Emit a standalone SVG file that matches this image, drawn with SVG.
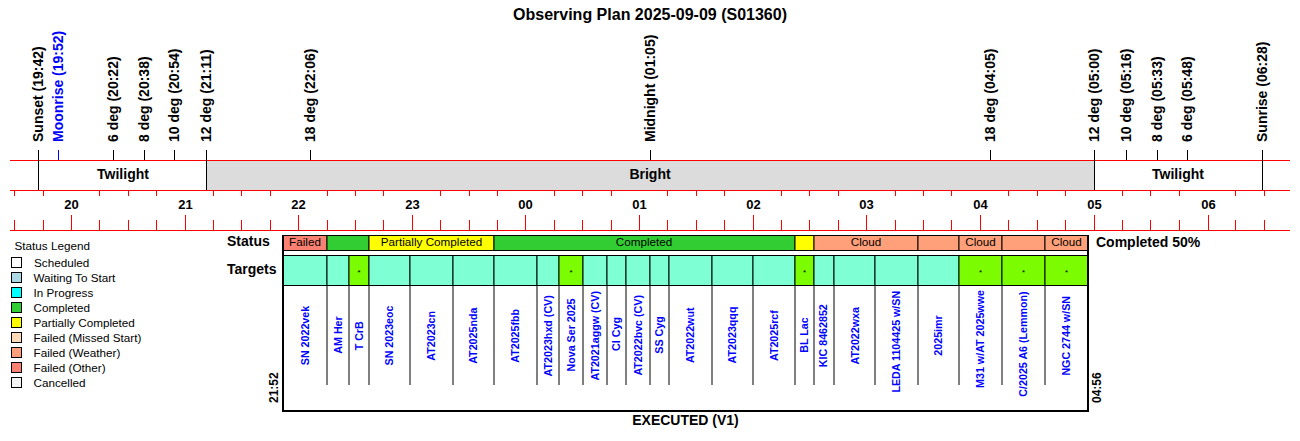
<svg xmlns="http://www.w3.org/2000/svg" width="1300" height="441" viewBox="0 0 1300 441">
<style>
text{font-family:"Liberation Sans",Arial,sans-serif;fill:#000}
.title{font-size:16px;font-weight:bold}
.ev{font-size:14px;font-weight:bold}
.band{font-size:14px;font-weight:bold}
.hr{font-size:13px;font-weight:bold}
.lbl{font-size:14px;font-weight:bold}
.sm{font-size:11.7px}
.tg{font-size:10.7px;font-weight:bold;fill:#0000ff}
.side{font-size:12px;font-weight:bold}
.red{stroke:#ff0000;stroke-width:1;fill:none}
.blk{stroke:#000;stroke-width:1;fill:none}
.cell{stroke:#000;stroke-width:1}
.aq{fill:#7fffd4}
.lg{fill:#7cfc00}
.sq{stroke:#000;stroke-width:1}
</style>
<rect width="1300" height="441" fill="#fff"/>
<text class="title" x="650" y="20" text-anchor="middle">Observing Plan 2025-09-09 (S01360)</text>

<g id="night-band">
<rect x="206.5" y="160.5" width="888" height="30" fill="#dcdcdc"/>
<text class="band" x="123" y="179" text-anchor="middle">Twilight</text>
<text class="band" x="650" y="179" text-anchor="middle">Bright</text>
<text class="band" x="1178" y="179" text-anchor="middle">Twilight</text>
</g>

<g id="axis">
<path class="red" d="M10 160.5H1290M10 190.5H1290M10 230.5H1290"/>
<path class="red" d="M14.5 190.5V196M43.5 190.5V196M99.5 190.5V196M128.5 190.5V196M156.5 190.5V196M213.5 190.5V196M241.5 190.5V196M270.5 190.5V196M327.5 190.5V196M355.5 190.5V196M383.5 190.5V196M440.5 190.5V196M469.5 190.5V196M497.5 190.5V196M554.5 190.5V196M582.5 190.5V196M611.5 190.5V196M667.5 190.5V196M696.5 190.5V196M724.5 190.5V196M781.5 190.5V196M809.5 190.5V196M838.5 190.5V196M895.5 190.5V196M923.5 190.5V196M951.5 190.5V196M1008.5 190.5V196M1037.5 190.5V196M1065.5 190.5V196M1122.5 190.5V196M1150.5 190.5V196M1179.5 190.5V196M1235.5 190.5V196M1264.5 190.5V196"/>
<path class="red" d="M14.5 220V230M43.5 220V230M99.5 220V230M128.5 220V230M156.5 220V230M213.5 220V230M241.5 220V230M270.5 220V230M327.5 220V230M355.5 220V230M383.5 220V230M440.5 220V230M469.5 220V230M497.5 220V230M554.5 220V230M582.5 220V230M611.5 220V230M667.5 220V230M696.5 220V230M724.5 220V230M781.5 220V230M809.5 220V230M838.5 220V230M895.5 220V230M923.5 220V230M951.5 220V230M1008.5 220V230M1037.5 220V230M1065.5 220V230M1122.5 220V230M1150.5 220V230M1179.5 220V230M1235.5 220V230M1264.5 220V230"/>
<path class="red" d="M71.5 215V230M185.5 215V230M298.5 215V230M412.5 215V230M525.5 215V230M639.5 215V230M753.5 215V230M866.5 215V230M980.5 215V230M1094.5 215V230M1208.5 215V230"/>
<g class="hr" text-anchor="middle">
<text class="hr" x="71.5" y="208.5">20</text>
<text class="hr" x="185.5" y="208.5">21</text>
<text class="hr" x="298.5" y="208.5">22</text>
<text class="hr" x="412.5" y="208.5">23</text>
<text class="hr" x="525.5" y="208.5">00</text>
<text class="hr" x="639.5" y="208.5">01</text>
<text class="hr" x="753.5" y="208.5">02</text>
<text class="hr" x="866.5" y="208.5">03</text>
<text class="hr" x="980.5" y="208.5">04</text>
<text class="hr" x="1094.5" y="208.5">05</text>
<text class="hr" x="1208.5" y="208.5">06</text>
</g>
</g>

<g id="events">
<path class="blk" d="M38.5 150V190M113.5 150V160M144.5 150V160M174.5 150V160M206.5 150V190M310.5 150V160M650.5 150V160M990.5 150V160M1094.5 150V190M1126.5 150V160M1157.5 150V160M1187.5 150V160M1262.5 150V190"/>
<path d="M58.5 150V160" stroke="#0000ff" stroke-width="1"/>
<text class="ev" transform="translate(43,142) rotate(-90)">Sunset (19:42)</text>
<text class="ev" transform="translate(63,142) rotate(-90)" style="fill:#0000ff">Moonrise (19:52)</text>
<text class="ev" transform="translate(118,142) rotate(-90)">6 deg (20:22)</text>
<text class="ev" transform="translate(149,142) rotate(-90)">8 deg (20:38)</text>
<text class="ev" transform="translate(179,142) rotate(-90)">10 deg (20:54)</text>
<text class="ev" transform="translate(211,142) rotate(-90)">12 deg (21:11)</text>
<text class="ev" transform="translate(315,142) rotate(-90)">18 deg (22:06)</text>
<text class="ev" transform="translate(655,142) rotate(-90)">Midnight (01:05)</text>
<text class="ev" transform="translate(995,142) rotate(-90)">18 deg (04:05)</text>
<text class="ev" transform="translate(1099,142) rotate(-90)">12 deg (05:00)</text>
<text class="ev" transform="translate(1131,142) rotate(-90)">10 deg (05:16)</text>
<text class="ev" transform="translate(1162,142) rotate(-90)">8 deg (05:33)</text>
<text class="ev" transform="translate(1192,142) rotate(-90)">6 deg (05:48)</text>
<text class="ev" transform="translate(1267,142) rotate(-90)">Sunrise (06:28)</text>
</g>

<g id="legend">
<text class="sm" x="14.5" y="250">Status Legend</text>
<rect class="sq" x="11.5" y="257.5" width="10" height="10" fill="#ffffff"/>
<text class="sm" x="34" y="266.5">Scheduled</text>
<rect class="sq" x="11.5" y="272.5" width="10" height="10" fill="#add8e6"/>
<text class="sm" x="33.5" y="281.5">Waiting To Start</text>
<rect class="sq" x="11.5" y="287.5" width="10" height="10" fill="#00ffff"/>
<text class="sm" x="33.5" y="296.5">In Progress</text>
<rect class="sq" x="11.5" y="302.5" width="10" height="10" fill="#32cd32"/>
<text class="sm" x="33.5" y="311.5">Completed</text>
<rect class="sq" x="11.5" y="317.5" width="10" height="10" fill="#ffff00"/>
<text class="sm" x="33.5" y="326.5">Partially Completed</text>
<rect class="sq" x="11.5" y="332.5" width="10" height="10" fill="#ffdab9"/>
<text class="sm" x="33.5" y="341.5">Failed (Missed Start)</text>
<rect class="sq" x="11.5" y="347.5" width="10" height="10" fill="#ffa07a"/>
<text class="sm" x="33.5" y="356.5">Failed (Weather)</text>
<rect class="sq" x="11.5" y="362.5" width="10" height="10" fill="#fa8072"/>
<text class="sm" x="33.5" y="371.5">Failed (Other)</text>
<rect class="sq" x="11.5" y="377.5" width="10" height="10" fill="#f5f5f5"/>
<text class="sm" x="33.5" y="386.5">Cancelled</text>
</g>

<g id="status-row">
<text class="lbl" x="227" y="246">Status</text>
<rect class="cell" x="283" y="235.5" width="44" height="15" fill="#fa8072"/>
<rect class="cell" x="327" y="235.5" width="42" height="15" fill="#32cd32"/>
<rect class="cell" x="369" y="235.5" width="125" height="15" fill="#ffff00"/>
<rect class="cell" x="494" y="235.5" width="301" height="15" fill="#32cd32"/>
<rect class="cell" x="795" y="235.5" width="19" height="15" fill="#ffff00"/>
<rect class="cell" x="814" y="235.5" width="104" height="15" fill="#ffa07a"/>
<rect class="cell" x="918" y="235.5" width="41" height="15" fill="#ffa07a"/>
<rect class="cell" x="959" y="235.5" width="43" height="15" fill="#ffa07a"/>
<rect class="cell" x="1002" y="235.5" width="43" height="15" fill="#ffa07a"/>
<rect class="cell" x="1045" y="235.5" width="43" height="15" fill="#ffa07a"/>
<g text-anchor="middle">
<text class="sm" x="305" y="246">Failed</text>
<text class="sm" x="431.5" y="246">Partially Completed</text>
<text class="sm" x="644" y="246">Completed</text>
<text class="sm" x="866" y="246">Cloud</text>
<text class="sm" x="980.5" y="246">Cloud</text>
<text class="sm" x="1066.5" y="246">Cloud</text>
</g>
<text class="lbl" x="1096" y="246.5">Completed 50%</text>
</g>

<g id="targets-row">
<text class="lbl" x="227" y="274">Targets</text>
<rect class="cell aq" x="283" y="255.5" width="44" height="30"/>
<rect class="cell aq" x="327" y="255.5" width="22" height="30"/>
<rect class="cell lg" x="349" y="255.5" width="20" height="30"/>
<rect class="cell aq" x="369" y="255.5" width="41" height="30"/>
<rect class="cell aq" x="410" y="255.5" width="43" height="30"/>
<rect class="cell aq" x="453" y="255.5" width="41" height="30"/>
<rect class="cell aq" x="494" y="255.5" width="43" height="30"/>
<rect class="cell aq" x="537" y="255.5" width="22" height="30"/>
<rect class="cell lg" x="559" y="255.5" width="24" height="30"/>
<rect class="cell aq" x="583" y="255.5" width="24" height="30"/>
<rect class="cell aq" x="607" y="255.5" width="19" height="30"/>
<rect class="cell aq" x="626" y="255.5" width="24" height="30"/>
<rect class="cell aq" x="650" y="255.5" width="19" height="30"/>
<rect class="cell aq" x="669" y="255.5" width="43" height="30"/>
<rect class="cell aq" x="712" y="255.5" width="41" height="30"/>
<rect class="cell aq" x="753" y="255.5" width="42" height="30"/>
<rect class="cell lg" x="795" y="255.5" width="19" height="30"/>
<rect class="cell aq" x="814" y="255.5" width="20" height="30"/>
<rect class="cell aq" x="834" y="255.5" width="41" height="30"/>
<rect class="cell aq" x="875" y="255.5" width="43" height="30"/>
<rect class="cell aq" x="918" y="255.5" width="41" height="30"/>
<rect class="cell lg" x="959" y="255.5" width="43" height="30"/>
<rect class="cell lg" x="1002" y="255.5" width="43" height="30"/>
<rect class="cell lg" x="1045" y="255.5" width="43" height="30"/>
<g font-size="8" text-anchor="middle">
<text x="359" y="275">*</text>
<text x="571" y="275">*</text>
<text x="804.5" y="275">*</text>
<text x="980.5" y="275">*</text>
<text x="1023.5" y="275">*</text>
<text x="1066.5" y="275">*</text>
</g>
</g>

<g id="target-columns">
<path class="blk" d="M327 285V385M349 285V385M369 285V385M410 285V385M453 285V385M494 285V385M537 285V385M559 285V385M583 285V385M607 285V385M626 285V385M650 285V385M669 285V385M712 285V385M753 285V385M795 285V385M814 285V385M834 285V385M875 285V385M918 285V385M959 285V385M1002 285V385M1045 285V385"/>
<g text-anchor="middle">
<text class="tg" transform="translate(308.6,335.5) rotate(-90)">SN 2022vek</text>
<text class="tg" transform="translate(341.5,335) rotate(-90)">AM Her</text>
<text class="tg" transform="translate(362.5,335.8) rotate(-90)">T CrB</text>
<text class="tg" transform="translate(393.3,335.5) rotate(-90)">SN 2023eoc</text>
<text class="tg" transform="translate(435.3,335.8) rotate(-90)">AT2023cn</text>
<text class="tg" transform="translate(477.3,335.7) rotate(-90)">AT2025nda</text>
<text class="tg" transform="translate(519.3,335.8) rotate(-90)">AT2025fbb</text>
<text class="tg" transform="translate(551.8,335.8) rotate(-90)">AT2023hxd (CV)</text>
<text class="tg" transform="translate(574.8,335) rotate(-90)">Nova Ser 2025</text>
<text class="tg" transform="translate(598.5,335.8) rotate(-90)">AT2021aggw (CV)</text>
<text class="tg" transform="translate(620,334) rotate(-90)">CI Cyg</text>
<text class="tg" transform="translate(641.5,335.3) rotate(-90)">AT2022bvc (CV)</text>
<text class="tg" transform="translate(663,335) rotate(-90)">SS Cyg</text>
<text class="tg" transform="translate(694,335.3) rotate(-90)">AT2022wut</text>
<text class="tg" transform="translate(736,335) rotate(-90)">AT2023qqq</text>
<text class="tg" transform="translate(777.5,335.6) rotate(-90)">AT2025rcf</text>
<text class="tg" transform="translate(808,335) rotate(-90)">BL Lac</text>
<text class="tg" transform="translate(826.5,335.7) rotate(-90)">KIC 8462852</text>
<text class="tg" transform="translate(858.5,335.8) rotate(-90)">AT2022wxa</text>
<text class="tg" transform="translate(900.3,341.7) rotate(-90)">LEDA 1104425 w/SN</text>
<text class="tg" transform="translate(942.3,335.5) rotate(-90)">2025imr</text>
<text class="tg" transform="translate(984.3,339) rotate(-90)">M31 w/AT 2025wwe</text>
<text class="tg" transform="translate(1027.3,344) rotate(-90)">C/2025 A6 (Lemmon)</text>
<text class="tg" transform="translate(1070,335.8) rotate(-90)">NGC 2744 w/SN</text>
</g>
</g>

<g id="frame">
<path d="M283 235V411H1088V235" fill="none" stroke="#000" stroke-width="2"/>
<text class="side" transform="translate(278,403) rotate(-90)">21:52</text>
<text class="side" transform="translate(1101,403) rotate(-90)">04:56</text>
<text class="lbl" x="685.5" y="425" text-anchor="middle">EXECUTED (V1)</text>
</g>
</svg>
